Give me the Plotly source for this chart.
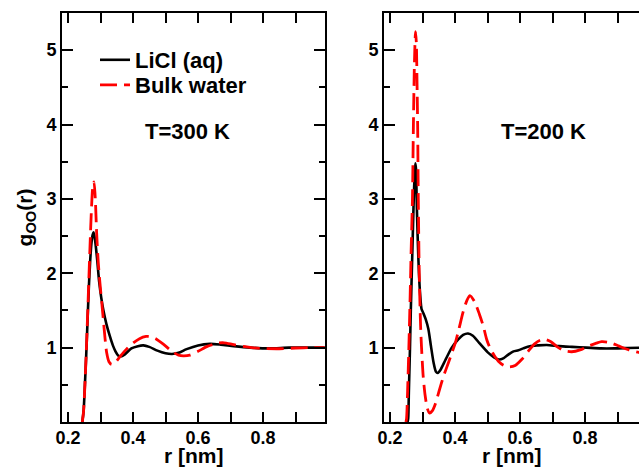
import plotly.graph_objects as go

# Oxygen-oxygen radial distribution functions g_OO(r), r in nm

# T = 300 K
r_licl_300 = [0.244, 0.248, 0.252, 0.256, 0.260, 0.264, 0.268, 0.272, 0.276, 0.279,
              0.284, 0.290, 0.296, 0.302, 0.309, 0.318, 0.329, 0.338, 0.346, 0.355,
              0.362, 0.375, 0.395, 0.415, 0.432, 0.450, 0.475, 0.500, 0.520, 0.540,
              0.565, 0.600, 0.637, 0.670, 0.710, 0.760, 0.820, 0.880, 0.950, 0.990]
g_licl_300 = [0.00, 0.15, 0.50, 0.90, 1.35, 1.80, 2.15, 2.40, 2.52, 2.55,
              2.42, 2.17, 1.88, 1.68, 1.50, 1.32, 1.15, 1.03, 0.95, 0.89,
              0.88, 0.91, 0.99, 1.02, 1.03, 1.01, 0.96, 0.925, 0.915, 0.93,
              0.98, 1.03, 1.05, 1.04, 1.02, 1.00, 0.99, 1.00, 1.00, 1.00]

r_bulk_300 = [0.244, 0.248, 0.252, 0.256, 0.260, 0.264, 0.268, 0.272, 0.276, 0.280,
              0.284, 0.288, 0.293, 0.298, 0.304, 0.309, 0.314, 0.319, 0.326, 0.334,
              0.345, 0.360, 0.380, 0.400, 0.420, 0.440, 0.452, 0.470, 0.495, 0.520,
              0.540, 0.555, 0.575, 0.600, 0.630, 0.660, 0.680, 0.710, 0.750, 0.790,
              0.850, 0.900, 0.950, 0.990]
g_bulk_300 = [0.00, 0.15, 0.50, 0.92, 1.40, 1.90, 2.40, 2.85, 3.15, 3.23,
              3.00, 2.55, 2.15, 1.88, 1.60, 1.36, 1.12, 0.93, 0.81, 0.775,
              0.80, 0.88, 0.98, 1.06, 1.12, 1.15, 1.15, 1.12, 1.04, 0.95,
              0.90, 0.89, 0.90, 0.95, 1.02, 1.06, 1.065, 1.04, 1.01, 0.99,
              0.985, 0.995, 1.00, 1.00]

# T = 200 K
r_licl_200 = [0.254, 0.256, 0.258, 0.2615, 0.264, 0.267, 0.270, 0.273, 0.276, 0.278,
              0.280, 0.282, 0.285, 0.289, 0.293, 0.297, 0.303, 0.310, 0.318, 0.326,
              0.334, 0.341, 0.347, 0.355, 0.370, 0.390, 0.410, 0.425, 0.440, 0.455,
              0.475, 0.500, 0.520, 0.535, 0.550, 0.565, 0.580, 0.595, 0.610, 0.630,
              0.655, 0.682, 0.720, 0.760, 0.805, 0.850, 0.890, 0.930, 0.970]
g_licl_200 = [0.00, 0.05, 0.40, 1.00, 1.50, 2.00, 2.50, 3.00, 3.35, 3.48,
              3.40, 3.00, 2.50, 2.00, 1.70, 1.52, 1.46, 1.38, 1.25, 1.02,
              0.80, 0.68, 0.66, 0.70, 0.83, 1.00, 1.11, 1.17, 1.19, 1.16,
              1.06, 0.94, 0.87, 0.84, 0.86, 0.91, 0.95, 0.965, 0.99, 1.02,
              1.03, 1.035, 1.02, 1.01, 1.00, 0.99, 0.99, 0.995, 1.00]

r_bulk_200 = [0.249, 0.251, 0.254, 0.258, 0.262, 0.265, 0.269, 0.272, 0.275, 0.2785,
              0.281, 0.283, 0.285, 0.287, 0.290, 0.294, 0.297, 0.302, 0.308, 0.315,
              0.322, 0.330, 0.340, 0.350, 0.365, 0.380, 0.392, 0.400, 0.412, 0.425,
              0.437, 0.446, 0.460, 0.475, 0.487, 0.4975, 0.510, 0.520, 0.535, 0.550,
              0.568, 0.585, 0.605, 0.625, 0.645, 0.662, 0.677, 0.695, 0.715, 0.735,
              0.759, 0.785, 0.810, 0.835, 0.851, 0.875, 0.905, 0.935, 0.966, 0.990]
g_bulk_200 = [0.00, 0.05, 0.40, 1.00, 1.70, 2.30, 3.00, 4.00, 4.80, 5.25,
              5.10, 4.60, 4.00, 3.00, 2.00, 1.30, 1.00, 0.62, 0.36, 0.18,
              0.12, 0.15, 0.25, 0.40, 0.62, 0.80, 0.95, 1.05, 1.25, 1.48,
              1.64, 1.70, 1.62, 1.45, 1.29, 1.11, 0.97, 0.90, 0.81, 0.76,
              0.74, 0.76, 0.84, 0.95, 1.05, 1.10, 1.11, 1.08, 1.01, 0.96,
              0.945, 0.97, 1.02, 1.06, 1.08, 1.07, 1.02, 0.97, 0.935, 0.92]

x_tickvals = [0.2, 0.4, 0.6, 0.8]
x_minorvals = [0.3, 0.5, 0.7, 0.9]
y_tickvals = [1, 2, 3, 4, 5]
y_minorvals = [0.5, 1.5, 2.5, 3.5, 4.5]

labels = ["LiCl (aq)", "Bulk water"]
temps = ["T=300 K", "T=200 K"]
x_title = "r [nm]"

FONT = "Liberation Sans, Arial, sans-serif"
W, H = 639, 470
ML, MR, MT, MB = 62, 0, 13, 48
PW = W - ML - MR
PH = H - MT - MB
PX_PER_NM = 325.0
X0 = 0.1815

fig = go.Figure()

black = dict(color="black", width=2.6)
red = dict(color="#ff0000", width=2.8, dash="17px,7px")

fig.add_trace(go.Scatter(x=r_licl_300, y=g_licl_300, mode="lines", name=labels[0],
                         line=dict(**black, shape="spline", smoothing=0.7),
                         xaxis="x", yaxis="y", legend="legend"))
fig.add_trace(go.Scatter(x=r_bulk_300, y=g_bulk_300, mode="lines", name=labels[1],
                         line=dict(**red, shape="spline", smoothing=0.7),
                         xaxis="x", yaxis="y", legend="legend2"))
fig.add_trace(go.Scatter(x=r_licl_200, y=g_licl_200, mode="lines", name=labels[0],
                         line=dict(**black, shape="spline", smoothing=0.7),
                         xaxis="x2", yaxis="y2", showlegend=False))
fig.add_trace(go.Scatter(x=r_bulk_200, y=g_bulk_200, mode="lines", name=labels[1],
                         line=dict(**red, shape="spline", smoothing=0.7),
                         xaxis="x2", yaxis="y2", showlegend=False))

left_w = 263
right_start = 384 - ML
dom1 = [0, left_w / PW]
dom2 = [right_start / PW, 1]

tickfont = dict(family=FONT, size=18, color="black", weight="bold")
titlefont = dict(family=FONT, size=21, color="black", weight="bold")
textfont = dict(family=FONT, size=22, color="black", weight="bold")


def xaxis(domain, width_px, anchor):
    return dict(domain=domain, anchor=anchor,
                range=[X0, X0 + width_px / PX_PER_NM],
                tickvals=x_tickvals, tickformat=".1f", ticklabelstandoff=-2,
                ticks="inside", ticklen=10, tickwidth=2, tickcolor="black",
                minor=dict(tickvals=x_minorvals, ticks="inside", ticklen=10,
                           tickwidth=2, tickcolor="black"),
                showline=True, linewidth=2, linecolor="black", mirror="ticks",
                showgrid=False, zeroline=False, tickfont=tickfont)


def yaxis(anchor, mirror, title):
    d = dict(anchor=anchor, domain=[0, 1], range=[0, 5.5],
             tickvals=y_tickvals, ticks="inside", ticklen=11, tickwidth=2,
             tickcolor="black", showline=True, linewidth=2, linecolor="black",
             mirror=mirror, showgrid=False, zeroline=False, tickfont=tickfont,
             minor=dict(tickvals=y_minorvals, ticks="inside", ticklen=6,
                        tickwidth=2, tickcolor="black"))
    if title:
        d["title"] = dict(text=title, font=titlefont, standoff=8)
    return d


def legend_at(center_y_px):
    return dict(x=(95 - ML) / PW, y=1 - (center_y_px - MT) / PH,
                xanchor="left", yanchor="middle",
                bgcolor="rgba(0,0,0,0)", borderwidth=0, font=textfont)


def x_title_note(axis_ref):
    # axis title sitting on the bottom edge of the page
    return dict(x=0.5, xref=f"{axis_ref} domain", y=-(469 - (H - MB)) / PH,
                yref="paper", xanchor="center", yanchor="bottom",
                text=x_title, showarrow=False, font=titlefont)


fig.update_layout(
    width=W, height=H, autosize=False,
    margin=dict(l=ML, r=MR, t=MT, b=MB, pad=0),
    paper_bgcolor="white", plot_bgcolor="white",
    font=dict(family=FONT, color="black"),
    xaxis=xaxis(dom1, left_w, "y"),
    yaxis=yaxis("x", "ticks", "g<sub>OO</sub>(r)"),
    xaxis2=xaxis(dom2, W - 384 - MR, "y2"),
    yaxis2=yaxis("x2", False, None),
    showlegend=True,
    legend=legend_at(60),
    legend2=legend_at(85),
    annotations=[
        dict(x=0.569, y=3.91, xref="x", yref="y", text=temps[0], showarrow=False,
             font=textfont),
        dict(x=0.671, y=3.91, xref="x2", yref="y2", text=temps[1], showarrow=False,
             font=textfont),
        x_title_note("x"),
        x_title_note("x2"),
    ],
)

fig.write_html("out.html")
